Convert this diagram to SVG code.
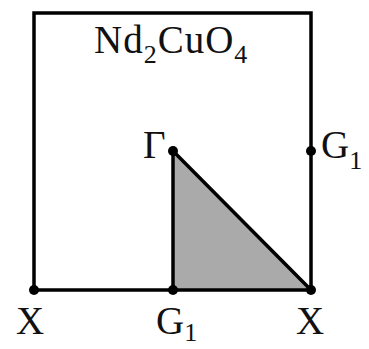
<svg xmlns="http://www.w3.org/2000/svg" width="369" height="349" viewBox="0 0 369 349">
<style>
.ln{stroke:#000;stroke-width:3.5;fill:none;stroke-linecap:square}
.dot{fill:#000}
.t{font-family:"Liberation Serif","Times New Roman",serif;font-size:39px;fill:#111}
.s{font-size:26px}
</style>
<rect width="369" height="349" fill="#fff"/>
<g id="connectors">
<polygon points="173,151 173,290 311,290" fill="#aaa" stroke="none"/>
<rect class="ln" x="34" y="13" width="277" height="277"/>
<line class="ln" x1="173" y1="151" x2="173" y2="290"/>
<line class="ln" x1="173" y1="151" x2="311" y2="290"/>
</g>
<g id="title"><text class="t" x="94" y="53" letter-spacing="1">Nd<tspan class="s" dy="10">2</tspan><tspan dy="-10">CuO</tspan><tspan class="s" dy="10">4</tspan></text></g>
<g id="gamma"><circle class="dot" cx="173" cy="151" r="5"/><text class="t" x="143" y="158">Γ</text></g>
<g id="g1-right"><circle class="dot" cx="311" cy="151" r="5"/><text class="t" x="321" y="158">G<tspan class="s" dy="11">1</tspan></text></g>
<g id="x-left"><circle class="dot" cx="34" cy="290" r="5"/><text class="t" x="16" y="334">X</text></g>
<g id="g1-bottom"><circle class="dot" cx="173" cy="290" r="5"/><text class="t" x="156" y="334">G<tspan class="s" dy="7">1</tspan></text></g>
<g id="x-right"><circle class="dot" cx="311" cy="290" r="5"/><text class="t" x="296" y="334">X</text></g>
</svg>
